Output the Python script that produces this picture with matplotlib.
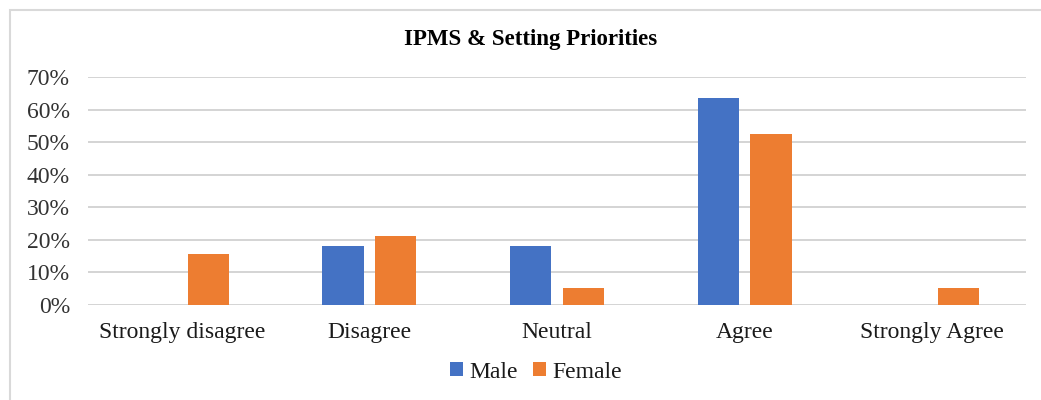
import matplotlib
matplotlib.use("Agg")
import matplotlib.pyplot as plt
import numpy as np
from matplotlib.patches import Rectangle

categories = ["Strongly disagree", "Disagree", "Neutral", "Agree", "Strongly Agree"]
male = [0.0, 18.2, 18.2, 63.6, 0.0]
female = [15.8, 21.1, 5.3, 52.6, 5.3]
yticks = [0, 10, 20, 30, 40, 50, 60, 70]

plt.rcParams['font.family'] = ['Liberation Serif', 'DejaVu Serif']

W, H = 1041, 400
fig = plt.figure(figsize=(W/100, H/100), dpi=100)
ax = fig.add_axes([88/W, 1-305/H, (1026-88)/W, (305-77)/H])

x = np.arange(len(categories))
bw = 0.22
off = 0.141
ax.bar(x - off, male, bw, color="#4472C4", label="Male", zorder=3)
ax.bar(x + off, female, bw, color="#ED7D31", label="Female", zorder=3)

ax.set_xlim(-0.5, len(categories) - 0.5)
ax.set_ylim(0, 70)
ax.set_yticks(yticks)
ax.set_yticklabels([f"{v}%" for v in yticks], fontsize=17, color="#333333")
ax.set_xticks(x)
ax.set_xticklabels(categories, fontsize=17, color="#1a1a1a")
ax.tick_params(axis='both', length=0)
ax.tick_params(axis='y', pad=13)
ax.tick_params(axis='x', pad=12)
ax.grid(axis='y', color="#D4D4D4", linewidth=1.4, zorder=0)
for s in ax.spines.values():
    s.set_visible(False)

fig.text(531/W, 1-40/H, "IPMS & Setting Priorities", ha='center', va='center',
         fontsize=16.5, fontweight='bold', color='black')

leg = fig.legend(loc='center', bbox_to_anchor=(536/W, 1-372/H), ncol=2, frameon=False,
                 fontsize=17, handlelength=0.55, handleheight=0.55, handletextpad=0.3,
                 columnspacing=0.6)
for t in leg.get_texts():
    t.set_color("#1a1a1a")

fig.patches.append(Rectangle((10/W, -0.1), 1.2, 1 - 10/H + 0.1, transform=fig.transFigure,
                             fill=False, edgecolor="#D9D9D9", linewidth=1.5))

fig.savefig("out.png", dpi=100)
